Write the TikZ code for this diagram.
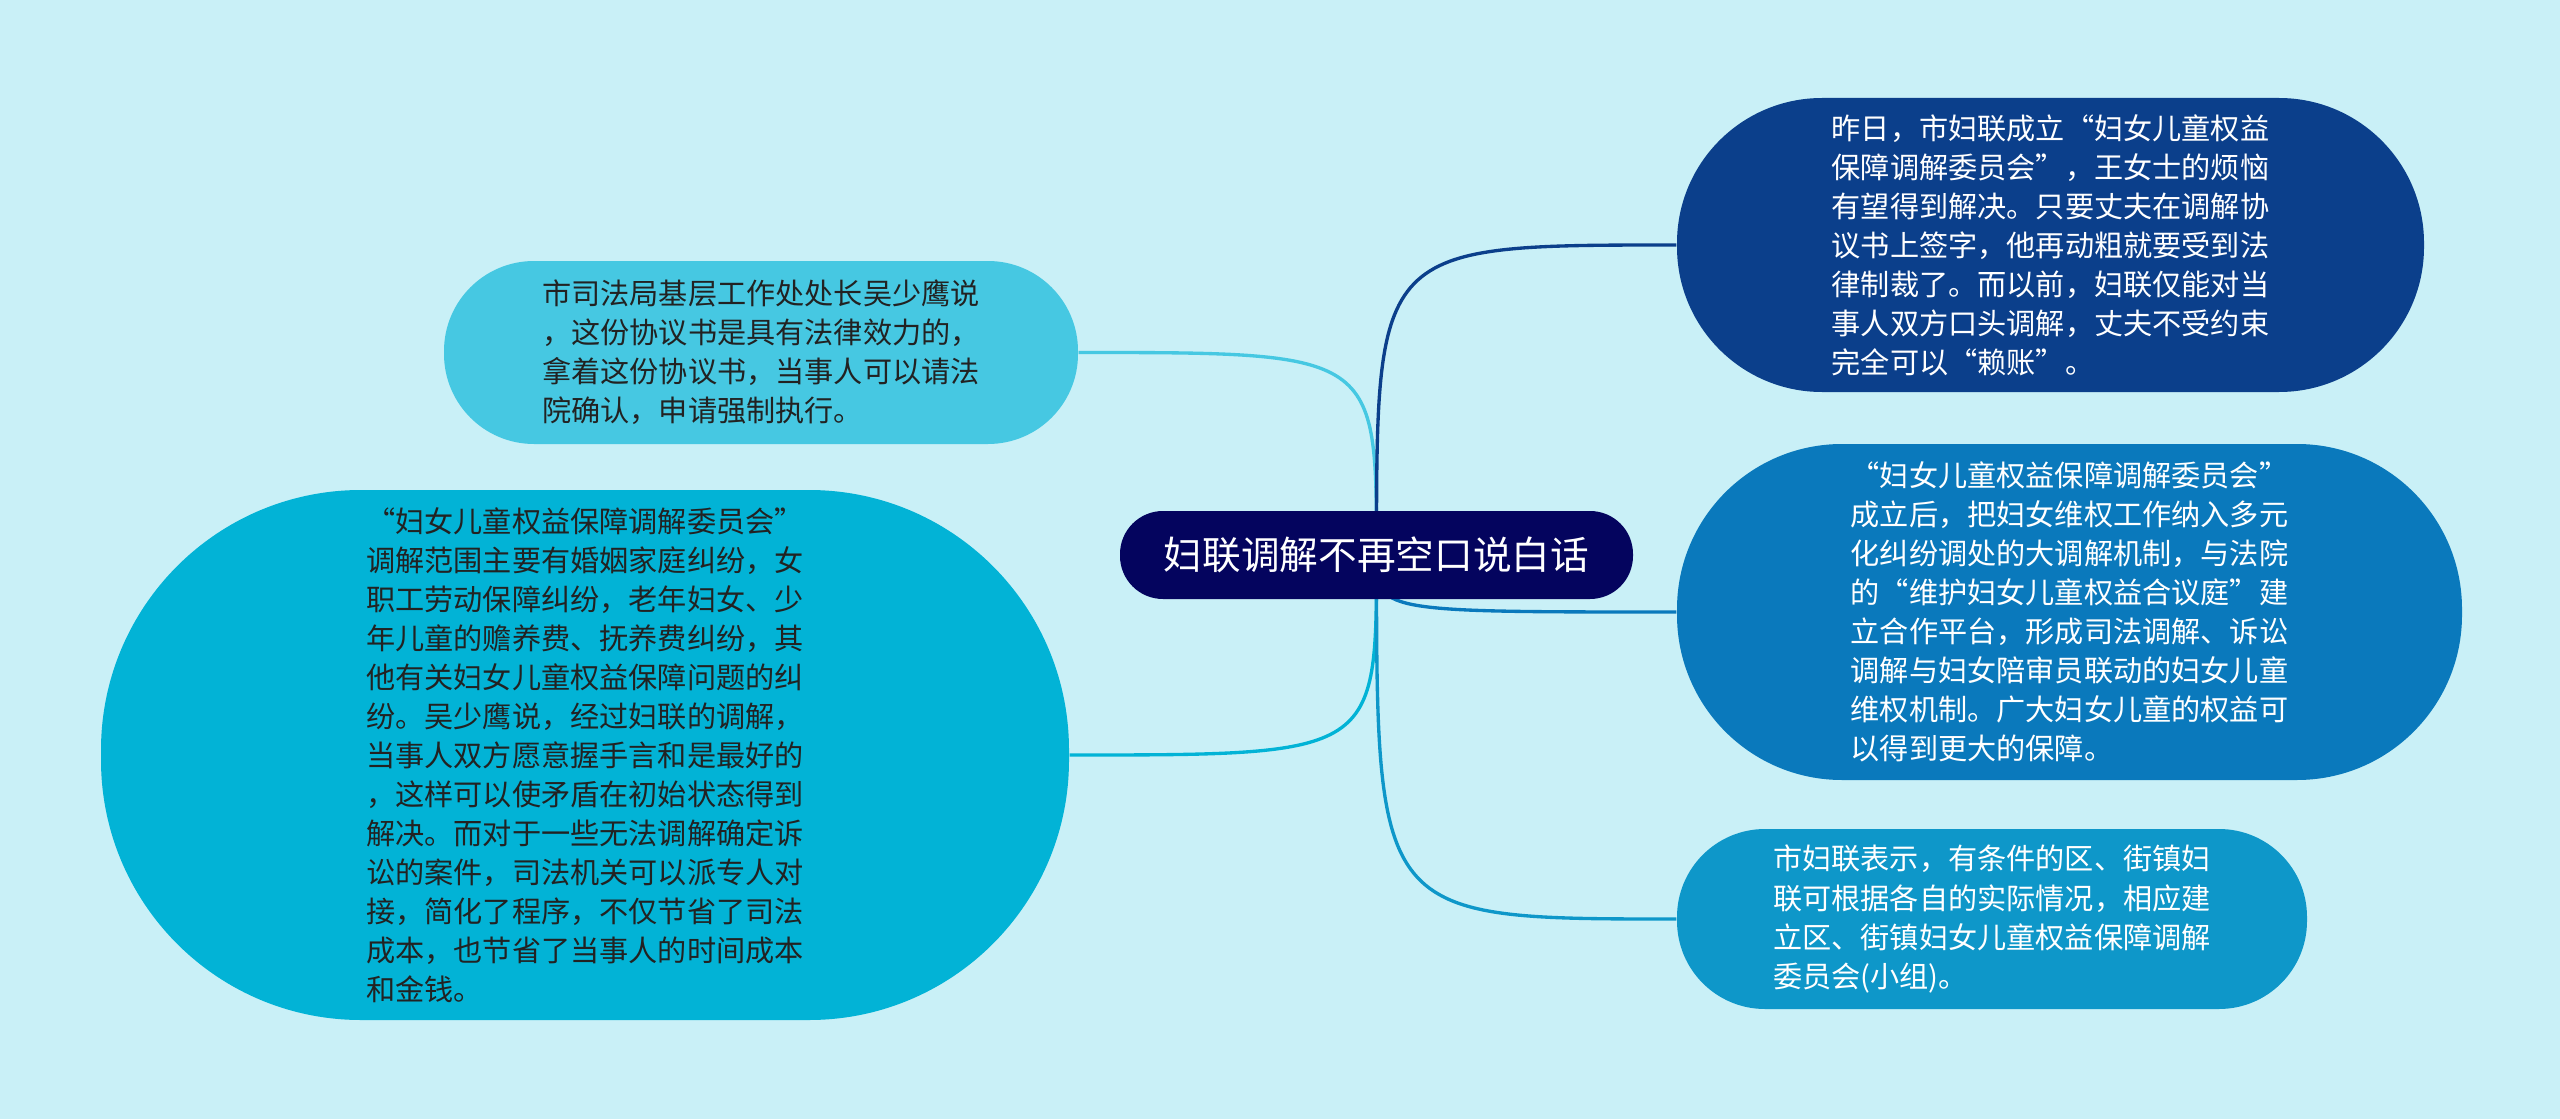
\documentclass[tikz,border=0pt]{standalone}
\usepackage{tikz}
\usetikzlibrary{positioning,calc,backgrounds}
\usepackage{xcolor}
\usepackage{fontspec}
\setmainfont{Noto Sans CJK SC}
\definecolor{bgsky}{HTML}{C9F0F7}
\definecolor{rootnavy}{HTML}{04045E}
\definecolor{cyanlight}{HTML}{46C8E2}
\definecolor{cyanmid}{HTML}{02B3D6}
\definecolor{bluedark}{HTML}{0B3F8B}
\definecolor{bluemid}{HTML}{0A79BC}
\definecolor{bluelight}{HTML}{0E97C9}
\definecolor{inkdark}{HTML}{222222}

\begin{document}
\begin{tikzpicture}[
  topic/.style={rectangle, fill=rootnavy, text=white, inner sep=0pt, align=center,
    font=\fontsize{11pt}{13pt}\selectfont},
  branch/.style={rectangle, inner sep=0pt, align=left,
    font=\fontsize{8.3pt}{11.1pt}\selectfont},
  link/.style={line width=0.95pt}
]
  \useasboundingbox (0,0) rectangle (25.6,11.19);
  \begin{scope}[on background layer]
    \fill[bgsky] (0,0) rectangle (25.6,11.19);
  \end{scope}

  \node[topic, minimum width=5.13cm, minimum height=0.88cm, rounded corners=0.43cm] (root) at (13.765,5.64) {妇联调解不再空口说白话};

  \node[branch, fill=cyanlight, text=inkdark, minimum width=6.34cm, minimum height=1.83cm, rounded corners=0.9cm] (judicial) at (7.61,7.665)
    {市司法局基层工作处处长吴少鹰说\\，这份协议书是具有法律效力的，\\拿着这份协议书，当事人可以请法\\院确认，申请强制执行。};

  \node[branch, fill=cyanmid, text=inkdark, minimum width=9.68cm, minimum height=5.30cm, rounded corners=2.6cm] (scope) at (5.85,3.64)
    {“妇女儿童权益保障调解委员会”\\调解范围主要有婚姻家庭纠纷，女\\职工劳动保障纠纷，老年妇女、少\\年儿童的赡养费、抚养费纠纷，其\\他有关妇女儿童权益保障问题的纠\\纷。吴少鹰说，经过妇联的调解，\\当事人双方愿意握手言和是最好的\\，这样可以使矛盾在初始状态得到\\解决。而对于一些无法调解确定诉\\讼的案件，司法机关可以派专人对\\接，简化了程序，不仅节省了司法\\成本，也节省了当事人的时间成本\\和金钱。};

  \node[branch, fill=bluedark, text=white, minimum width=7.47cm, minimum height=2.94cm, rounded corners=1.45cm] (founded) at (20.505,8.74)
    {昨日，市妇联成立“妇女儿童权益\\保障调解委员会”，王女士的烦恼\\有望得到解决。只要丈夫在调解协\\议书上签字，他再动粗就要受到法\\律制裁了。而以前，妇联仅能对当\\事人双方口头调解，丈夫不受约束\\完全可以“赖账”。};

  \node[branch, fill=bluemid, text=white, minimum width=7.85cm, minimum height=3.36cm, rounded corners=1.65cm] (mechanism) at (20.695,5.07)
    {“妇女儿童权益保障调解委员会”\\成立后，把妇女维权工作纳入多元\\化纠纷调处的大调解机制，与法院\\的“维护妇女儿童权益合议庭”建\\立合作平台，形成司法调解、诉讼\\调解与妇女陪审员联动的妇女儿童\\维权机制。广大妇女儿童的权益可\\以得到更大的保障。};

  \node[branch, fill=bluelight, text=white, minimum width=6.30cm, minimum height=1.80cm, rounded corners=0.88cm] (district) at (19.92,2.00)
    {市妇联表示，有条件的区、街镇妇\\联可根据各自的实际情况，相应建\\立区、街镇妇女儿童权益保障调解\\委员会(小组)。};

  \begin{scope}[on background layer]
    \draw[link, cyanlight] (root.center) .. controls (root.center |- judicial.east) .. (judicial.east);
    \draw[link, cyanmid] (root.center) .. controls (root.center |- scope.east) .. (scope.east);
    \draw[link, bluedark] (root.center) .. controls (root.center |- founded.west) .. (founded.west);
    \draw[link, bluemid] (root.center) .. controls (root.center |- mechanism.west) .. (mechanism.west);
    \draw[link, bluelight] (root.center) .. controls (root.center |- district.west) .. (district.west);
  \end{scope}
\end{tikzpicture}
\end{document}
